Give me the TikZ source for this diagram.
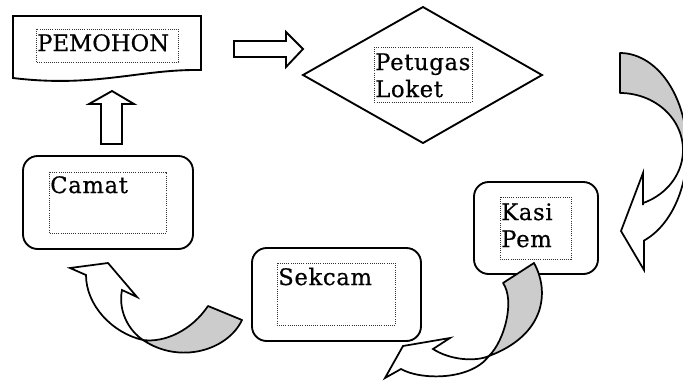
\documentclass[tikz,border=0pt]{standalone}
\usepackage{fontspec}
\setmainfont{DejaVu Serif}[LetterSpace=3, FakeBold=0.6]
\newfontfamily\wideserif{DejaVu Serif}[LetterSpace=0, FakeBold=0.6]
\definecolor{backgray}{HTML}{CCCCCC}
\definecolor{dotgray}{HTML}{333333}
\tikzset{
  shapeline/.style={draw=black, line width=1.4pt, line join=miter},
  roundbox/.style={draw=black, line width=1.4pt, rounded corners=11pt},
  dotbox/.style={draw=dotgray, densely dotted, line width=0.6pt},
  lbl/.style={inner sep=0pt, anchor=base west, font=\fontsize{17}{20}\selectfont},
  ribbonwhite/.style={draw=black, line width=1.3pt, fill=white, line join=miter},
  ribbongray/.style={draw=black, line width=1.3pt, fill=backgray, line join=round},
}
\begin{document}
\begin{tikzpicture}[x=0.75pt, y=-0.75pt]
\useasboundingbox (0,0) rectangle (683,380);
\clip (0,0) rectangle (683,380);
\fill[white] (0,0) rectangle (683,380);

% PEMOHON document shape
\draw[shapeline] (13,16) -- (201,16) -- (201,70) .. controls (140,69) and (95,88) .. (13,78) -- cycle;
\draw[dotbox] (36,29) rectangle (178,62);
\node[lbl, font=\fontsize{17}{20}\wideserif] (pem) at (37,51) {PEMOHON};

% right block arrow
\draw[shapeline] (234,41) -- (286,41) -- (286,32) -- (303,49) -- (286,67) -- (286,57) -- (234,57) -- cycle;

% up block arrow
\draw[shapeline] (101,144) -- (101,104) -- (89,104) -- (112,91) -- (134,104) -- (122,104) -- (122,144) -- cycle;

% diamond
\draw[shapeline] (303,75) -- (423,7) -- (542,75) -- (423,143) -- cycle;
\draw[dotbox] (374,47) rectangle (472,102);
\node[lbl] (pet1) at (375,70) {Petugas};
\node[lbl] (pet2) at (375,97) {Loket};

% Camat box
\draw[roundbox] (23,156) rectangle (193,249);
\draw[dotbox] (49,172) rectangle (166,233);
\node[lbl] (camat) at (50,193) {Camat};

% Sekcam box
\draw[roundbox] (252,248) rectangle (421,341);
\draw[dotbox] (277,263) rectangle (395,325);
\node[lbl] (sekcam) at (278,285) {Sekcam};

% Kasi Pem box
\draw[roundbox] (474,182) rectangle (598,274);
\draw[dotbox] (500,197) rectangle (571,259);
\node[lbl] (kasi1) at (501,220) {Kasi};
\node[lbl] (kasi2) at (501,247) {Pem};

% curved arrow A (right side, towards Kasi Pem)
\draw[ribbonwhite] (643,205) -- (643,173) -- (621,231) -- (644,270) -- (644,246)
  -- plot[domain=69:0, samples=30] ({620+67*cos(\x)},{150+97*sin(\x)})
  -- plot[domain=0:68.6, samples=30] ({620+63*cos(\x)},{150+57*sin(\x)}) -- cycle;
\draw[ribbongray] plot[domain=-90:0, samples=30] ({620+67*cos(\x)},{150+97*sin(\x)})
  -- plot[domain=0:-90, samples=30] ({620+63*cos(\x)},{150+57*sin(\x)}) -- cycle;

% curved arrow B (Kasi Pem towards Sekcam)
\draw[ribbonwhite] (433,349) -- (450,338) -- (403,346) -- (385,378) -- (401,369)
  .. controls (420,380) and (470,381) .. (489,356)
  .. controls (475,362) and (450,360) .. (433,349) -- cycle;
\draw[ribbongray] (489,356) .. controls (505,340) and (515,300) .. (503,283) -- (534,263)
  .. controls (550,292) and (545,335) .. (489,356) -- cycle;

% curved arrow C (Sekcam towards Camat)
\draw[ribbonwhite] (86,275) -- (70,268) -- (108,263) -- (137,297) -- (122,290)
  .. controls (118,310) and (128,330) .. (143,340)
  .. controls (112,333) and (86,305) .. (86,275) -- cycle;
\draw[ribbongray] (143,340) .. controls (165,343) and (192,330) .. (208,306) -- (242,320)
  .. controls (228,350) and (180,365) .. (143,340) -- cycle;
\end{tikzpicture}
\end{document}
